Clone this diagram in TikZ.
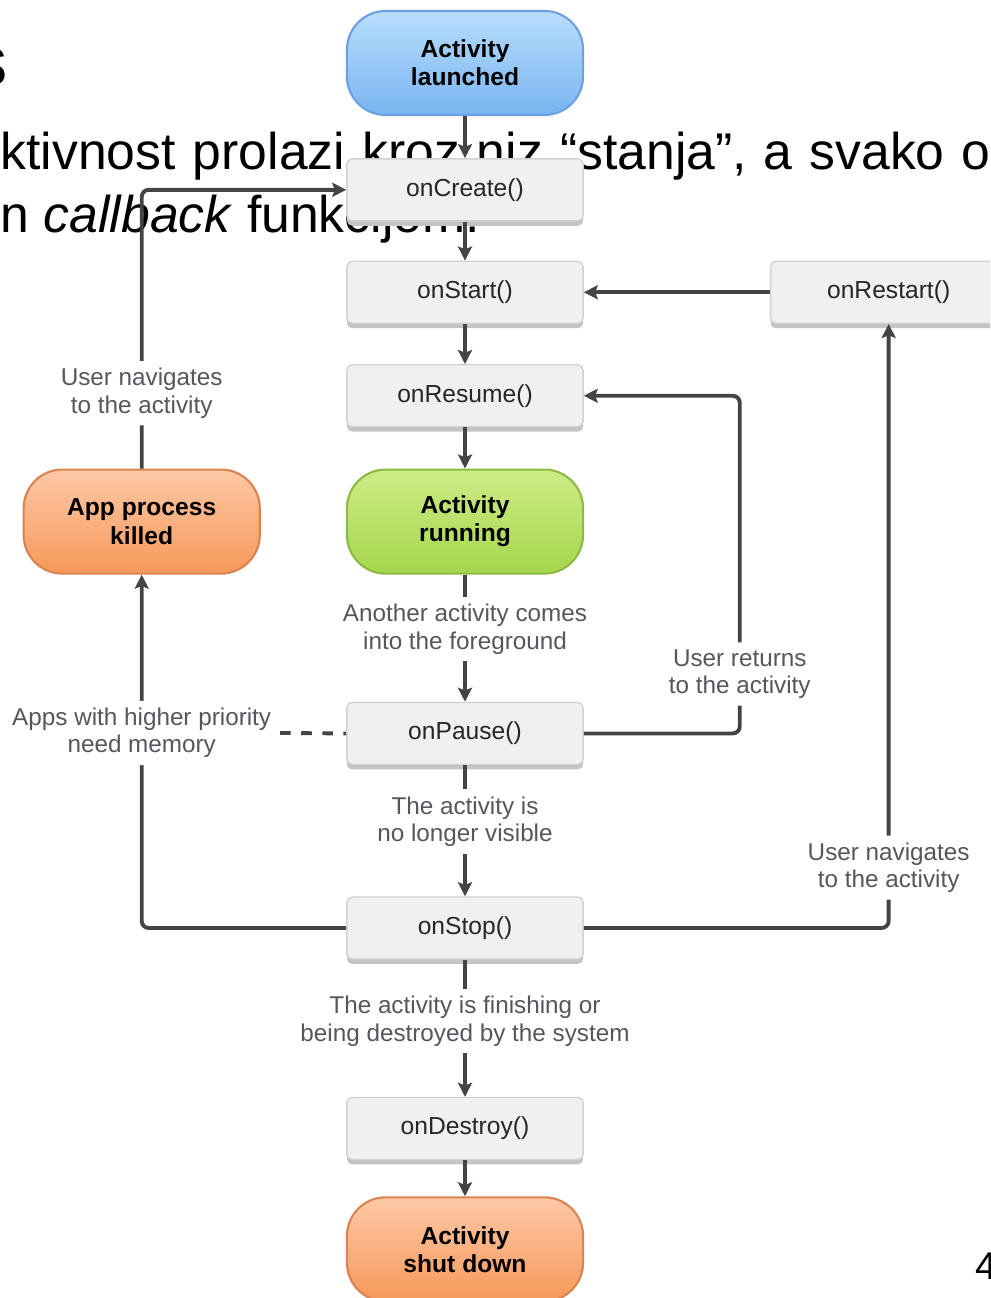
\documentclass[tikz,border=0pt]{standalone}
\usepackage{fontspec}
\setmainfont{Liberation Sans}
\usetikzlibrary{positioning, arrows.meta, shadows}
\definecolor{Ink}{HTML}{444444}
\definecolor{LabelGray}{HTML}{56565F}
\definecolor{BoxFill}{HTML}{F0F0F0}
\definecolor{BoxLine}{HTML}{D2D2D2}
\definecolor{BoxShadow}{HTML}{C4C4C4}
\definecolor{SkyTop}{HTML}{B8DDFB}
\definecolor{SkyBot}{HTML}{79B5F1}
\definecolor{SkyLine}{HTML}{6E9FE2}
\definecolor{LimeTop}{HTML}{CDEC86}
\definecolor{LimeBot}{HTML}{A5D64C}
\definecolor{LimeLine}{HTML}{8DBA42}
\definecolor{PeachTop}{HTML}{FDC8A6}
\definecolor{PeachBot}{HTML}{F7985A}
\definecolor{PeachLine}{HTML}{D98452}

\begin{document}
\begin{tikzpicture}[
    x=0.01cm, y=-0.01cm,
    callback/.style={draw=BoxLine, fill=BoxFill, rounded corners=1.5pt, minimum width=2.36cm, minimum height=0.62cm, font=\fontsize{7}{8}\selectfont, text=black!85, general shadow={fill=BoxShadow, shadow yshift=-1.4pt}},
    pill/.style={draw, line width=0.6pt, rounded corners=11pt, minimum width=2.36cm, minimum height=1.04cm, align=center, font=\fontsize{7}{8}\selectfont\bfseries},
    launch/.style={pill, top color=SkyTop, bottom color=SkyBot, draw=SkyLine},
    run/.style={pill, top color=LimeTop, bottom color=LimeBot, draw=LimeLine},
    halt/.style={pill, top color=PeachTop, bottom color=PeachBot, draw=PeachLine},
    lbl/.style={fill=white, text=LabelGray, align=center, inner sep=2pt, font=\fontsize{6.9}{7.8}\selectfont},
    slide/.style={inner sep=0pt, font=\fontsize{14.7}{17}\selectfont},
    arr/.style={draw=Ink, line width=1.1pt, -{Stealth[length=4pt, width=4pt, inset=0.8pt]}}
]
\useasboundingbox (0,0) rectangle (990,1298);
\clip (0,0) rectangle (990,1298);

% Slide text behind the diagram
\node[slide, anchor=base east, font=\fontsize{20}{24}\selectfont] (title) at (8,86) {s};
\node[slide, anchor=base west] (line1) at (0,170) {\spaceskip=4.85pt ktivnost prolazi kroz niz “stanja”, a svako o};
\node[slide, anchor=base west] (line2) at (0,233) {n \textit{callback} funkcijom.};
\node[slide, anchor=base west, font=\fontsize{11}{13}\selectfont] (pagenum) at (975,1279) {4};

% Main column
\node[launch] (launched) at (465,63) {Activity\\launched};
\node[callback, below=0.42cm of launched] (onCreate) {onCreate()};
\node[callback, below=0.39cm of onCreate] (onStart) {onStart()};
\node[callback, below=0.40cm of onStart] (onResume) {onResume()};
\node[run, below=0.41cm of onResume] (running) {Activity\\running};
\node[callback, below=1.27cm of running] (onPause) {onPause()};
\node[callback, below=1.31cm of onPause] (onStop) {onStop()};
\node[callback, below=1.37cm of onStop] (onDestroy) {onDestroy()};
\node[halt, below=0.36cm of onDestroy] (shutdown) {Activity\\shut down};

% Side nodes
\node[callback, right=1.86cm of onStart] (onRestart) {onRestart()};
\node[halt, left=0.85cm of running] (killed) {App process\\killed};

% Connectors
\draw[arr] (launched) -- (onCreate);
\draw[arr] (onCreate) -- (onStart);
\draw[arr] (onStart) -- (onResume);
\draw[arr] (onResume) -- (running);
\draw[arr] (running) -- node[lbl, pos=0.43] {Another activity comes\\into the foreground} (onPause);
\draw[arr] (onPause) -- node[lbl, pos=0.43] {The activity is\\no longer visible} (onStop);
\draw[arr] (onStop) -- node[lbl, pos=0.45] {The activity is finishing or\\being destroyed by the system} (onDestroy);
\draw[arr] (onDestroy) -- (shutdown);
\draw[arr] (onRestart) -- (onStart);

% Loops back
\draw[arr, rounded corners=2pt] (onStop.east) -| node[lbl, pos=0.55] {User navigates\\to the activity} (onRestart.south);
\draw[arr, rounded corners=2pt] (onPause.east) -- ++(156,0) |- node[lbl, pos=0.088] {User returns\\to the activity} (onResume.east);
\draw[arr, rounded corners=2pt] (onStop.west) -| node[lbl, pos=0.776] (needmem) {Apps with higher priority\\need memory} (killed.south);
\draw[draw=Ink, line width=1.1pt, dashed] (needmem.east) -- (onPause.west);
\draw[arr, rounded corners=2pt] (killed.north) |- node[lbl, pos=0.135] {User navigates\\to the activity} (onCreate.west);

\end{tikzpicture}
\end{document}
